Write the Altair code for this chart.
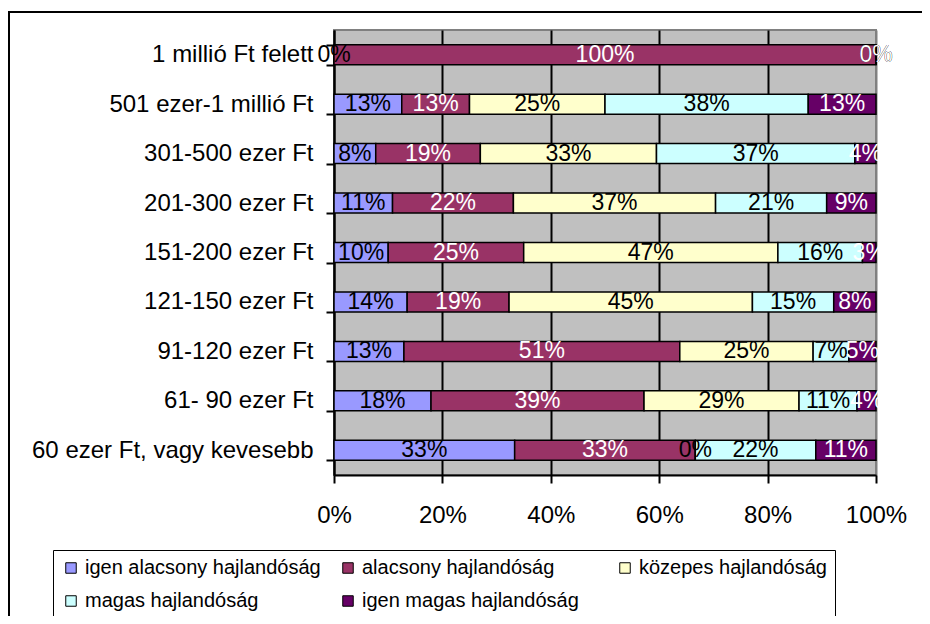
import altair as alt
import pandas as pd

categories = [
    "1 millió Ft felett",
    "501 ezer-1 millió Ft",
    "301-500 ezer Ft",
    "201-300 ezer Ft",
    "151-200 ezer Ft",
    "121-150 ezer Ft",
    "91-120 ezer Ft",
    "61- 90 ezer Ft",
    "60 ezer Ft, vagy kevesebb",
]
series = [
    "igen alacsony hajlandóság",
    "alacsony hajlandóság",
    "közepes hajlandóság",
    "magas hajlandóság",
    "igen magas hajlandóság",
]
igen_alacsony = [0, 12.5, 7.7, 10.8, 10.0, 13.5, 12.9, 17.9, 33.3]
alacsony = [100, 12.5, 19.3, 22.3, 25.0, 18.8, 50.9, 39.3, 33.3]
kozepes = [0, 25.0, 32.5, 37.3, 46.9, 44.9, 24.6, 28.6, 0]
magas = [0, 37.5, 36.6, 20.5, 15.6, 15.0, 6.6, 10.7, 22.2]
igen_magas = [0, 12.5, 3.9, 9.1, 2.5, 7.8, 5.0, 3.5, 11.1]
colors = ["#9999FF", "#993366", "#FFFFCC", "#CCFFFF", "#660066"]
x_ticks = [0, 0.2, 0.4, 0.6, 0.8, 1.0]

values = [igen_alacsony, alacsony, kozepes, magas, igen_magas]
rows = []
for si, (s, vals) in enumerate(zip(series, values)):
    for c, v in zip(categories, vals):
        rows.append({"cat": c, "series": s, "order": si, "value": v})
df = pd.DataFrame(rows)

FONT = "Liberation Sans"

base = alt.Chart(df).transform_stack(
    stack="value",
    groupby=["cat"],
    as_=["v0", "v1"],
    offset="normalize",
    sort=[alt.SortField("order", order="ascending")],
).transform_calculate(
    mid="(datum.v0 + datum.v1) / 2",
    label="round(datum.value) + '%'",
)

y_enc = alt.Y(
    "cat:N",
    sort=categories,
    title=None,
    scale=alt.Scale(paddingInner=0.595, paddingOuter=0.2975),
    axis=alt.Axis(
        labelFont=FONT,
        labelFontSize=24,
        labelColor="black",
        labelPadding=13,
        tickBand="extent",
        tickSize=8,
        tickColor="black",
        tickWidth=2,
        domainColor="black",
        domainWidth=2,
        labelLimit=400,
    ),
)

bars = base.mark_bar(stroke="black", strokeWidth=1.5).encode(
    x=alt.X(
        "v0:Q",
        title=None,
        scale=alt.Scale(domain=[0, 1], nice=False),
        axis=alt.Axis(
            values=x_ticks,
            format=".0%",
            labelFont=FONT,
            labelFontSize=24,
            labelColor="black",
            labelPadding=20,
            labelFlush=False,
            labelOverlap=False,
            tickSize=8,
            tickColor="black",
            tickWidth=2,
            domainColor="black",
            domainWidth=2,
            grid=True,
            gridColor={"condition": {"test": "datum.value >= 1", "value": "#808080"}, "value": "black"},
            gridWidth=2,
            gridOpacity=1,
        ),
    ),
    x2="v1:Q",
    y=y_enc,
    color=alt.Color(
        "series:N",
        scale=alt.Scale(domain=series, range=colors),
        title=None,
        legend=alt.Legend(
            orient="none",
            legendX=-281,
            legendY=520,
            direction="horizontal",
            columns=3,
            gridAlign="all",
            columnPadding=17,
            rowPadding=13,
            labelFont=FONT,
            labelFontSize=20,
            labelColor="black",
            labelOffset=4,
            labelLimit=400,
            symbolType="square",
            symbolSize=110,
            symbolStrokeColor="black",
            symbolStrokeWidth=1,
            strokeColor="black",
            fillColor="white",
            padding=8,
        ),
    ),
    order=alt.Order("order:Q"),
)

texts = base.mark_text(font=FONT, fontSize=23, baseline="middle", align="center").encode(
    x=alt.X("mid:Q"),
    y=alt.Y("cat:N", sort=categories),
    text="label:N",
    color=alt.condition(
        alt.FieldOneOfPredicate(field="series", oneOf=[series[1], series[4]]),
        alt.value("white"),
        alt.value("black"),
    ),
    order=alt.Order("order:Q"),
)

frame = alt.Chart(pd.DataFrame({"f": [0]})).mark_rect(
    fill=None, stroke="black", strokeWidth=2
).encode(
    x=alt.value(-325), x2=alt.value(800), y=alt.value(-18), y2=alt.value(800)
)

chart = alt.layer(frame, bars, texts).properties(
    width=542,
    height=445,
    autosize=alt.AutoSizeParams(type="none"),
    padding={"left": 326, "top": 22, "right": 46, "bottom": 141},
    background="white",
).configure_view(fill="#C0C0C0", stroke="#808080", strokeWidth=2)

chart.save("out.html", embed_options={"renderer": "svg", "actions": False})
